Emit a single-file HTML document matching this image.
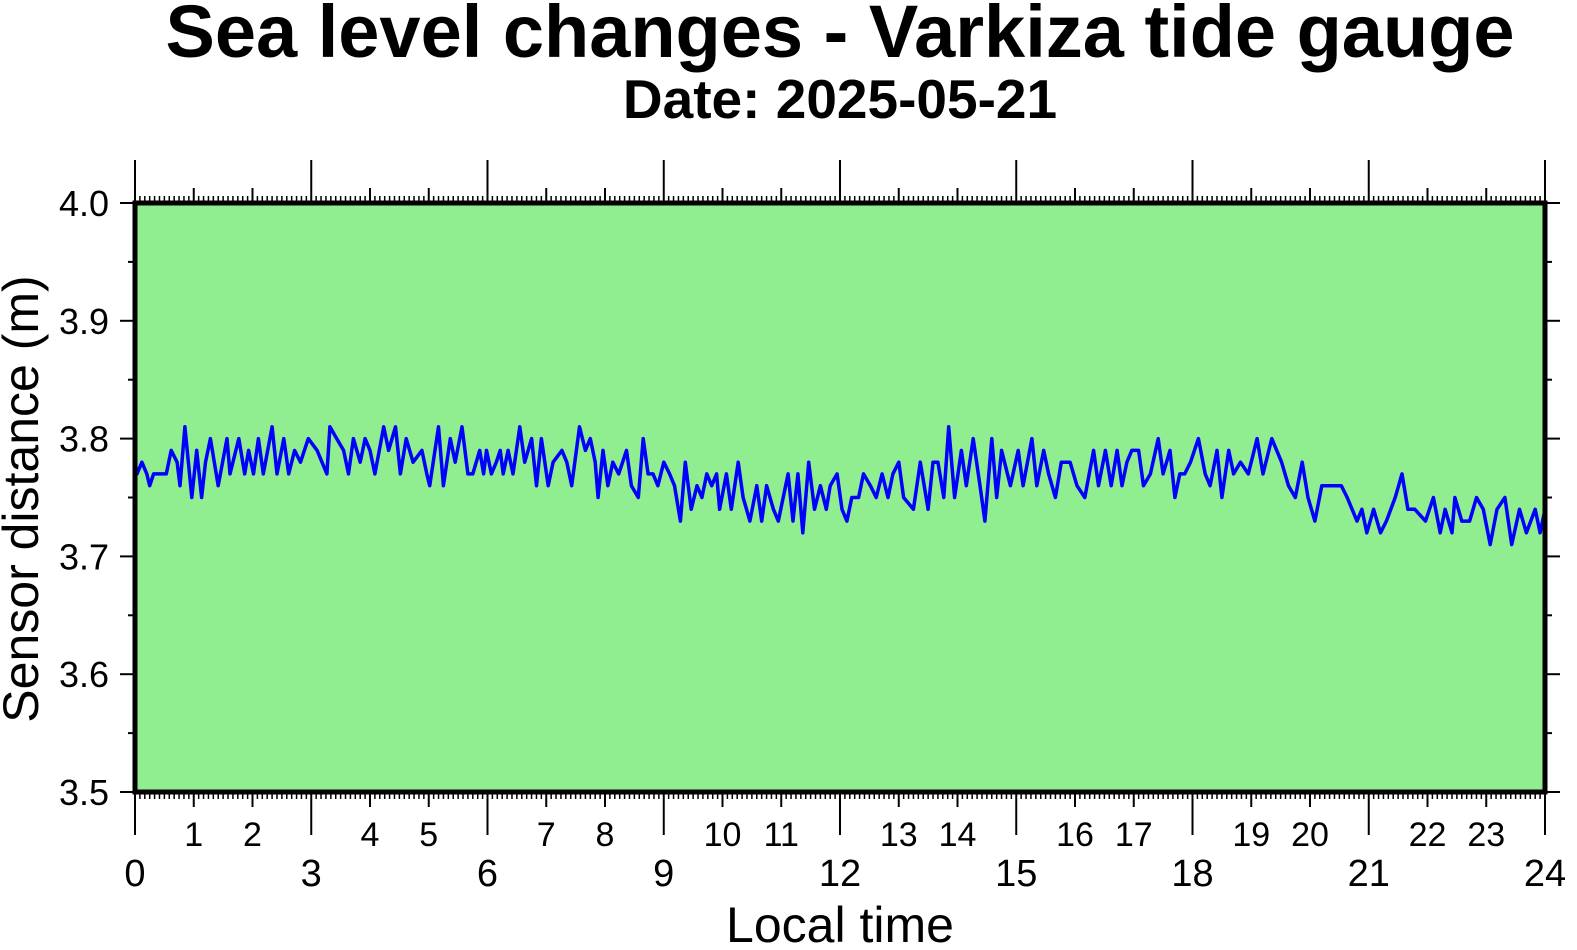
<!DOCTYPE html>
<html><head><meta charset="utf-8"><style>
html,body{margin:0;padding:0;background:#fff;}
svg{display:block;font-family:"Liberation Sans",sans-serif;}
</style></head><body>
<svg id="chart" width="1577" height="950" viewBox="0 0 1577 950">
<text x="840" y="57" text-anchor="middle" font-size="74" font-weight="bold">Sea level changes - Varkiza tide gauge</text>
<text x="840" y="118" text-anchor="middle" font-size="55" font-weight="bold">Date: 2025-05-21</text>
<rect x="135" y="203" width="1410" height="589" fill="#90ee90"/>
<g id="ticks"></g>
<g id="labels"></g>
<polyline id="series" fill="none" stroke="#0000ff" stroke-width="3.5" stroke-linejoin="round"/>
<rect x="135" y="203" width="1410" height="589" fill="none" stroke="#000" stroke-width="5"/>
<text x="840" y="942" text-anchor="middle" font-size="50">Local time</text>
<text transform="translate(38,499) rotate(-90)" text-anchor="middle" font-size="50">Sensor distance (m)</text>
</svg>
<script>
const minutes = [0,2,7,12,15,19,32,37,43,46,51,58,63,68,72,77,85,94,97,106,112,116,121,126,131,140,145,152,157,163,169,177,186,191,196,199,206,213,218,223,230,235,240,245,254,259,266,271,277,284,293,298,301,310,315,322,327,334,340,345,
352,356,359,364,369,373,376,381,386,393,398,405,410,415,422,427,436,441,446,454,460,465,470,473,478,483,488,494,502,507,514,519,524,529,534,540,546,551,557,562,568,574,579,584,589,594,597,604,609,616,621,628,635,640,645,652,657,662,667,672,677,682,688,694,700,706,
710,717,722,727,732,739,744,751,757,763,769,774,780,785,795,802,810,815,820,826,831,837,844,849,856,863,868,875,880,885,894,902,907,916,921,928,933,940,946,955,962,970,979,984,991,997,1003,1008,1013,1018,1025,1030,1037,1045,1050,1057,1062,1067,
1072,1078,1086,1093,1098,1105,1110,1117,1122,1129,1137,1146,1152,1161,1166,1171,1178,1185,1192,1198,1205,1212,1219,1226,1232,1238,1243,1248,1253,1258,1265,1272,1278,1287,1294,1300,1307,1318,1326,1333,1338,1345,1348,1355,1363,1370,1377,1384,1391,1399,1406,1414,1421,1430,1435,1440];
const levels = [3.78,3.77,3.78,3.77,3.76,3.77,3.77,3.79,3.78,3.76,3.81,3.75,3.79,3.75,3.78,3.80,3.76,3.80,3.77,3.80,3.77,3.79,3.77,3.80,3.77,3.81,3.77,3.80,3.77,3.79,3.78,3.80,3.79,3.78,3.77,3.81,3.80,3.79,3.77,3.80,3.78,3.80,3.79,3.77,3.81,3.79,3.81,3.77,3.80,3.78,3.79,3.77,3.76,3.81,3.76,3.80,3.78,3.81,3.77,3.77,
3.79,3.77,3.79,3.77,3.78,3.79,3.77,3.79,3.77,3.81,3.78,3.80,3.76,3.80,3.76,3.78,3.79,3.78,3.76,3.81,3.79,3.80,3.78,3.75,3.79,3.76,3.78,3.77,3.79,3.76,3.75,3.80,3.77,3.77,3.76,3.78,3.77,3.76,3.73,3.78,3.74,3.76,3.75,3.77,3.76,3.77,3.74,3.77,3.74,3.78,3.75,3.73,3.76,3.73,3.76,3.74,3.73,3.75,3.77,3.73,3.77,3.72,3.78,3.74,3.76,3.74,
3.76,3.77,3.74,3.73,3.75,3.75,3.77,3.76,3.75,3.77,3.75,3.77,3.78,3.75,3.74,3.78,3.74,3.78,3.78,3.75,3.81,3.75,3.79,3.76,3.80,3.76,3.73,3.80,3.75,3.79,3.76,3.79,3.76,3.80,3.76,3.79,3.77,3.75,3.78,3.78,3.76,3.75,3.79,3.76,3.79,3.76,3.79,3.76,3.78,3.79,3.79,3.76,3.77,3.80,3.77,3.79,3.75,3.77,
3.77,3.78,3.80,3.77,3.76,3.79,3.75,3.79,3.77,3.78,3.77,3.80,3.77,3.80,3.79,3.78,3.76,3.75,3.78,3.75,3.73,3.76,3.76,3.76,3.76,3.75,3.74,3.73,3.74,3.72,3.74,3.72,3.73,3.75,3.77,3.74,3.74,3.73,3.75,3.72,3.74,3.72,3.75,3.73,3.73,3.75,3.74,3.71,3.74,3.75,3.71,3.74,3.72,3.74,3.72,3.74];
const yTicks = ["3.5","3.6","3.7","3.8","3.9","4.0"];
const hourLabels = [1,2,4,5,7,8,10,11,13,14,16,17,19,20,22,23];
const majorLabels = [0,3,6,9,12,15,18,21,24];

const X0=135,X1=1545,Y0=792,Y1=203;
const xs = m => X0 + (m/1440)*(X1-X0);
const ys = v => Y0 - (v-3.5)/0.5*(Y0-Y1);
const NS='http://www.w3.org/2000/svg';
const tg=document.getElementById('ticks'), lg=document.getElementById('labels');
function line(x1,y1,x2,y2,w){const l=document.createElementNS(NS,'line');
l.setAttribute('x1',x1);l.setAttribute('y1',y1);l.setAttribute('x2',x2);l.setAttribute('y2',y2);
l.setAttribute('stroke','#000');l.setAttribute('stroke-width',w);


tg.appendChild(l);}
function text(x,y,s,size,anchor){const t=document.createElementNS(NS,'text');
t.setAttribute('x',x);t.setAttribute('y',y);t.setAttribute('font-size',size);t.setAttribute('text-anchor',anchor);
t.textContent=s;


lg.appendChild(t);}
for(let m=0;m<=1440;m+=5){
  const x=xs(m);
  let len = (m%180===0)?43:(m%60===0?15:7);
  let w = (m%60===0)?2:1.5;
  line(x,Y1,x,Y1-len,w); line(x,Y0,x,Y0+len,w);
}
hourLabels.forEach(h=>text(xs(h*60),846,String(h),34,'middle'));
majorLabels.forEach(h=>text(xs(h*60),886,String(h),38,'middle'));
for(let i=0;i<=10;i++){
  const v=3.5+i*0.05, y=ys(v);
  const len = i%2===0?15:7;
  line(X0,y,X0-len,y,2); line(X1,y,X1+len,y,2);
}
yTicks.forEach(s=>text(109,ys(parseFloat(s))+13,s,36,'end'));
document.getElementById('series').setAttribute('points',
  minutes.map((m,i)=>xs(m).toFixed(1)+','+ys(levels[i]).toFixed(1)).join(' '));
</script>
</body></html>
